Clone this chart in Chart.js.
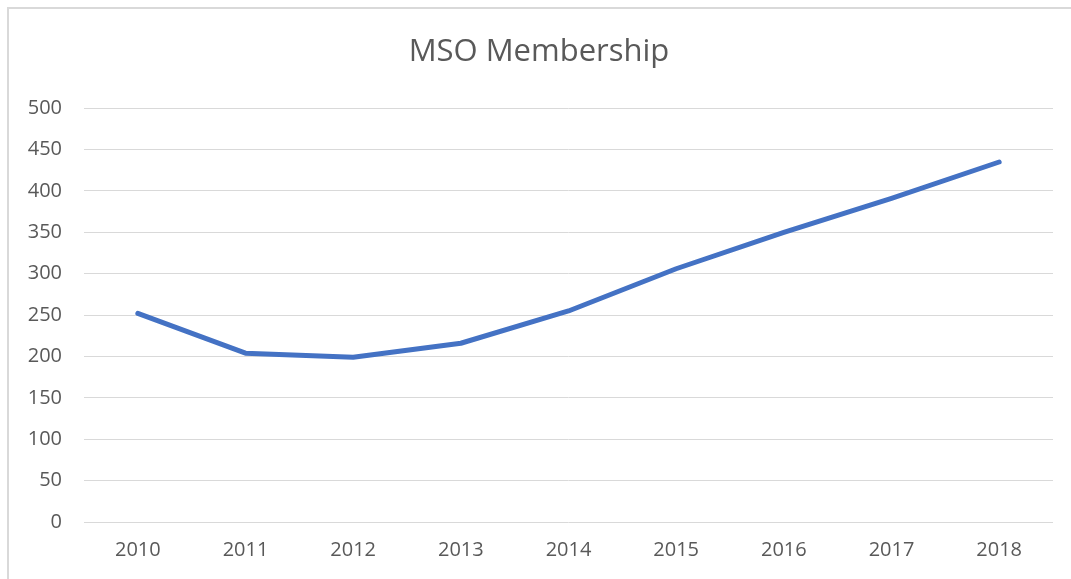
<!DOCTYPE html>
<html>
<head>
<meta charset="utf-8">
<script src="https://cdn.jsdelivr.net/npm/chart.js@4/dist/chart.umd.min.js"></script>
<style>
  html, body { margin: 0; padding: 0; background: #fff; overflow: hidden; }
  #wrap { position: relative; width: 1071px; height: 579px; }
  #frame { position: absolute; left: 7px; top: 7px; width: 1200px; height: 700px; border: 2px solid #d9d9d9; box-sizing: border-box; }
  #myChart { position: absolute; left: 0; top: 0; }
</style>
</head>
<body>
<div id="wrap">
  <div id="frame"></div>
  <canvas id="myChart" width="1071" height="579"></canvas>
</div>
<script>
'use strict';

// chart data
let years = ['2010', '2011', '2012', '2013', '2014', '2015', '2016', '2017', '2018'];
let members = [252, 204, 199, 216, 255, 306, 350, 391, 435];
let yTicks = [0, 50, 100, 150, 200, 250, 300, 350, 400, 450, 500];

const ctx = document.getElementById('myChart');
const textGrey = '#595959';
const fontName = '"Open Sans", "Noto Sans", sans-serif';

let chartObj = {
  type: 'line',
  data: {
    labels: years,
    datasets: [{
      label: 'MSO Membership',
      data: members,
      borderColor: '#4472C4',
      borderWidth: 5,
      borderCapStyle: 'round',
      borderJoinStyle: 'round',
      pointRadius: 0,
      tension: 0,
      fill: false
    }]
  },
  options: {
    responsive: false,
    animation: false,
    layout: {
      padding: { left: 25, right: 18, top: 0, bottom: 0 }
    },
    plugins: {
      legend: { display: false },
      tooltip: { enabled: false },
      title: {
        display: true,
        text: 'MSO Membership',
        color: textGrey,
        font: { family: fontName, size: 31, weight: 'normal', lineHeight: 1.2 },
        padding: { top: 34, bottom: 37 }
      }
    },
    scales: {
      x: {
        offset: true,
        grid: { display: false, drawTicks: false },
        border: { display: false },
        ticks: {
          color: textGrey,
          padding: 16,
          maxRotation: 0,
          font: { family: fontName, size: 20 }
        },
        afterFit: function(axis) { axis.height = 57; }
      },
      y: {
        min: 0,
        max: 500,
        afterBuildTicks: function(axis) {
          axis.ticks = yTicks.map(function(v) { return { value: v }; });
        },
        grid: { color: '#d9d9d9', lineWidth: 1, drawTicks: false },
        border: { display: false },
        ticks: {
          color: textGrey,
          padding: 22,
          font: { family: fontName, size: 20 }
        },
        afterFit: function(axis) { axis.width = 59; }
      }
    }
  }
};

new Chart(ctx, chartObj);
</script>
</body>
</html>
